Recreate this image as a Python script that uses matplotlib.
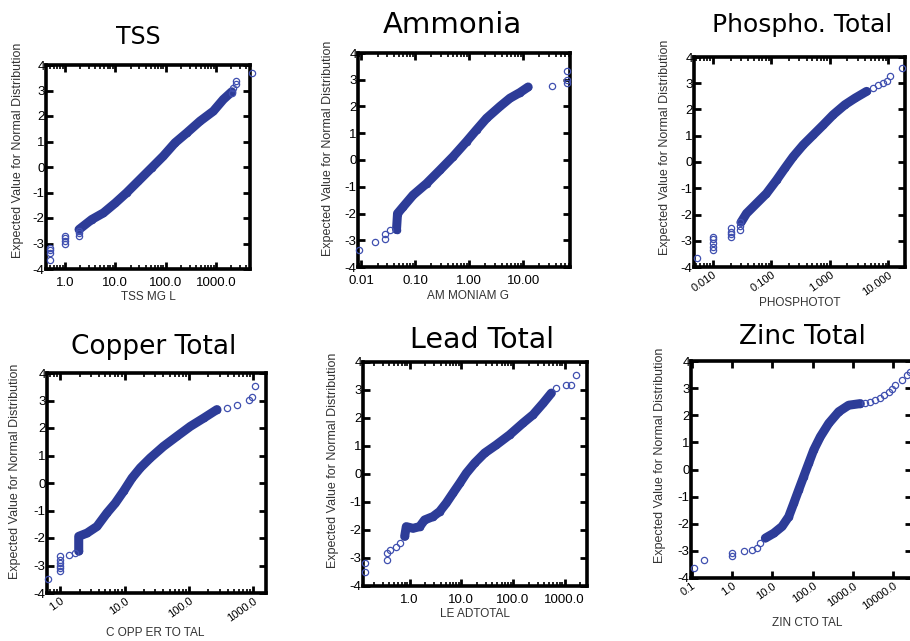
import numpy as np
import matplotlib
matplotlib.use("Agg")
import matplotlib.pyplot as plt
from matplotlib.ticker import LogLocator, NullFormatter, FixedLocator, FixedFormatter

plt.rcParams['font.family'] = ['Liberation Sans', 'DejaVu Sans']

W, H = 910, 641

# TSS
tss_band_x = [1.9, 3.39, 5.8, 10, 16.7, 28.6, 52.5, 89.6, 153, 262, 480, 880, 1390, 2040]
tss_band_z = [-2.45, -2.06, -1.8, -1.41, -1.01, -0.55, -0.03, 0.43, 0.95, 1.34, 1.8, 2.19, 2.65, 2.95]
tss_tail_x = [0.5, 0.5, 0.5, 0.5, 1.0, 1.0, 1.0, 1.0, 1.9, 1.9, 1.9, 2050, 2200, 2490, 2490, 5100]
tss_tail_z = [-3.63, -3.37, -3.24, -3.17, -3.0, -2.9, -2.8, -2.7, -2.7, -2.6, -2.5, 2.91, 3.1, 3.25, 3.37, 3.67]

# Ammonia
amm_band_x = [0.045, 0.047, 0.0597, 0.0914, 0.162, 0.286, 0.505, 0.893, 1.37, 2.1, 3.71, 5.7, 8.7, 12.4]
amm_band_z = [-2.6, -2.0, -1.75, -1.31, -0.88, -0.38, 0.13, 0.69, 1.13, 1.56, 2.0, 2.31, 2.52, 2.73]
amm_tail_x = [0.0091, 0.0178, 0.0272, 0.0272, 0.0348, 33.7, 64, 64, 64]
amm_tail_z = [-3.38, -3.06, -2.94, -2.75, -2.63, 2.78, 2.88, 3.0, 3.31]

# Phosphorus total
pho_band_x = [0.03, 0.0373, 0.0553, 0.082, 0.122, 0.169, 0.235, 0.349, 0.518, 0.769, 1.14, 1.81, 2.69, 4.26]
pho_band_z = [-2.3, -1.96, -1.58, -1.2, -0.69, -0.24, 0.2, 0.65, 1.03, 1.41, 1.8, 2.18, 2.43, 2.69]
pho_tail_x = [0.0052, 0.01, 0.01, 0.01, 0.01, 0.01, 0.02, 0.02, 0.02, 0.02, 0.029, 0.029, 0.029,
              5.5, 6.75, 8.0, 9.4, 10.7, 16.9]
pho_tail_z = [-3.64, -3.36, -3.25, -3.1, -2.95, -2.85, -2.85, -2.75, -2.65, -2.53, -2.6, -2.45, -2.3,
              2.8, 2.94, 3.0, 3.07, 3.26, 3.58]

# Copper total
cop_band_x = [1.93, 1.93, 2.6, 3.71, 5.3, 7.16, 9.6, 13, 17.5, 25, 40, 65, 105, 169, 272]
cop_band_z = [-2.48, -1.94, -1.82, -1.58, -1.09, -0.73, -0.3, 0.18, 0.55, 0.91, 1.33, 1.7, 2.06, 2.36, 2.67]
cop_tail_x = [0.64, 1.0, 1.0, 1.0, 1.0, 1.0, 1.0, 1.35, 1.71, 389, 560, 850, 960, 1070]
cop_tail_z = [-3.49, -3.21, -3.1, -3.0, -2.9, -2.8, -2.67, -2.6, -2.55, 2.73, 2.85, 3.03, 3.13, 3.52]

# Lead total
lead_band_x = [0.8, 0.86, 1.16, 1.56, 1.95, 2.83, 3.8, 5.1, 6.9, 9.3, 12.5, 18.1, 28.3, 47.5, 86, 156, 245, 383, 552]
lead_band_z = [-2.23, -1.88, -1.94, -1.88, -1.64, -1.52, -1.34, -1.04, -0.68, -0.33, 0.03, 0.39, 0.75, 1.04,
               1.4, 1.82, 2.12, 2.53, 2.89]
lead_tail_x = [0.134, 0.134, 0.36, 0.36, 0.41, 0.55, 0.64, 690, 1070, 1340, 1690]
lead_tail_z = [-3.49, -3.19, -3.07, -2.83, -2.71, -2.59, -2.47, 3.07, 3.19, 3.19, 3.55]

# Zinc total
zinc_band_x = [6.7, 10.8, 17.4, 25.4, 33.8, 45, 59.8, 79.5, 106, 155, 250, 442, 780, 1516]
zinc_band_z = [-2.53, -2.35, -2.1, -1.74, -1.25, -0.75, -0.26, 0.23, 0.72, 1.21, 1.7, 2.13, 2.37, 2.43]
zinc_tail_x = [0.116, 0.2, 1.0, 1.0, 2.0, 3.1, 4.2, 5.0, 2000, 2700, 3500, 4780, 6000, 7600, 9500,
               11200, 16300, 21800, 26500]
zinc_tail_z = [-3.63, -3.35, -3.2, -3.08, -3.02, -2.96, -2.9, -2.72, 2.45, 2.49, 2.55, 2.65, 2.75, 2.86,
               2.98, 3.1, 3.29, 3.47, 3.6]

fig = plt.figure(figsize=(W / 100, H / 100), dpi=100)


def px(x, y):
    return x / W, 1 - y / H


def panel(box, band_x, band_z, tail_x, tail_z, xlim, ticks, labels, rot):
    l, t, r, b = box
    ax = fig.add_axes([l / W, 1 - b / H, (r - l) / W, (b - t) / H])
    ax.set_xscale('log')
    ax.plot(band_x, band_z, '-', color='#2d3c98', lw=6.5, solid_capstyle='round',
            solid_joinstyle='round', zorder=2)
    ax.plot(band_x, band_z, 'o', mfc='none', mec='#2d3c98', ms=4.5, mew=0.9, zorder=3)
    ax.plot(tail_x, tail_z, 'o', mfc='none', mec='#4050b0', ms=4.5, mew=0.9, zorder=3,
            clip_on=False)
    ax.set_xlim(*xlim)
    ax.set_ylim(-4, 4)
    ax.set_yticks(range(-4, 5))
    ax.set_yticklabels([str(v) for v in range(-4, 5)], fontsize=9.5)
    ax.xaxis.set_major_locator(FixedLocator(ticks))
    ax.xaxis.set_major_formatter(FixedFormatter(labels))
    ax.xaxis.set_minor_locator(LogLocator(base=10, subs=np.arange(2, 10)))
    ax.xaxis.set_minor_formatter(NullFormatter())
    for s in ax.spines.values():
        s.set_linewidth(2.6)
    ax.tick_params(which='major', direction='in', length=5, width=2, top=True, right=True, pad=2)
    ax.tick_params(which='minor', direction='in', length=3, width=1.2, top=True)
    ax.tick_params(axis='y', pad=1)
    if rot:
        for lab in ax.get_xticklabels():
            lab.set_rotation(rot)
            lab.set_ha('right')
            lab.set_rotation_mode('anchor')
            lab.set_fontsize(8)
    else:
        ax.tick_params(axis='x', pad=5.5)
        for lab in ax.get_xticklabels():
            lab.set_fontsize(9.5)
    return ax


panel((46, 65, 250, 269), tss_band_x, tss_band_z, tss_tail_x, tss_tail_z,
      (0.42, 4700), [1, 10, 100, 1000], ['1.0', '10.0', '100.0', '1000.0'], 0)
panel((358, 53, 570, 267), amm_band_x, amm_band_z, amm_tail_x, amm_tail_z,
      (0.0087, 74), [0.01, 0.1, 1, 10], ['0.01', '0.10', '1.00', '10.00'], 0)
panel((694, 57, 905, 267), pho_band_x, pho_band_z, pho_tail_x, pho_tail_z,
      (0.0047, 19.4), [0.01, 0.1, 1, 10], ['0.010', '0.100', '1.000', '10.000'], 35)
panel((47, 373, 266, 593), cop_band_x, cop_band_z, cop_tail_x, cop_tail_z,
      (0.62, 1574), [1, 10, 100, 1000], ['1.0', '10.0', '100.0', '1000.0'], 35)
panel((363, 362, 587, 586), lead_band_x, lead_band_z, lead_tail_x, lead_tail_z,
      (0.125, 2700), [1, 10, 100, 1000], ['1.0', '10.0', '100.0', '1000.0'], 0)
panel((691, 361, 912, 578), zinc_band_x, zinc_band_z, zinc_tail_x, zinc_tail_z,
      (0.096, 29000), [0.1, 1, 10, 100, 1000, 10000],
      ['0.1', '1.0', '10.0', '100.0', '1000.0', '10000.0'], 35)

# titles
fig.text(*px(138, 37), 'TSS', ha='center', va='center', fontsize=17,
         family=['Liberation Sans Narrow', 'DejaVu Sans'])
geo = ['DejaVu Sans']
fig.text(*px(452, 25), 'Ammonia', ha='center', va='center', fontsize=21, family=geo)
fig.text(*px(802, 25), 'Phospho. Total', ha='center', va='center', fontsize=18, family=geo)
fig.text(*px(154, 347), 'Copper Total', ha='center', va='center', fontsize=19, family=geo)
fig.text(*px(482, 340), 'Lead Total', ha='center', va='center', fontsize=20.5, family=geo)
fig.text(*px(802, 337), 'Zinc Total', ha='center', va='center', fontsize=19, family=geo)

# y labels
ylab = 'Expected Value for Normal Distribution'
for x, y in [(18, 150), (328, 148), (665, 147), (15, 471), (333, 460), (660, 455)]:
    fig.text(*px(x, y), ylab, rotation=90, ha='center', va='center', fontsize=9, color='#333333')

# x labels
for x, y, s in [(148, 297, 'TSS MG L'), (468, 296, 'AM MONIAM G'), (800, 303, 'PHOSPHOTOT'),
                (155, 633, 'C OPP ER TO TAL'), (475, 614, 'LE ADTOTAL'), (807, 623, 'ZIN CTO TAL')]:
    fig.text(*px(x, y), s, ha='center', va='center', fontsize=8.5, color='#333333')

fig.savefig('out.png', dpi=100)
